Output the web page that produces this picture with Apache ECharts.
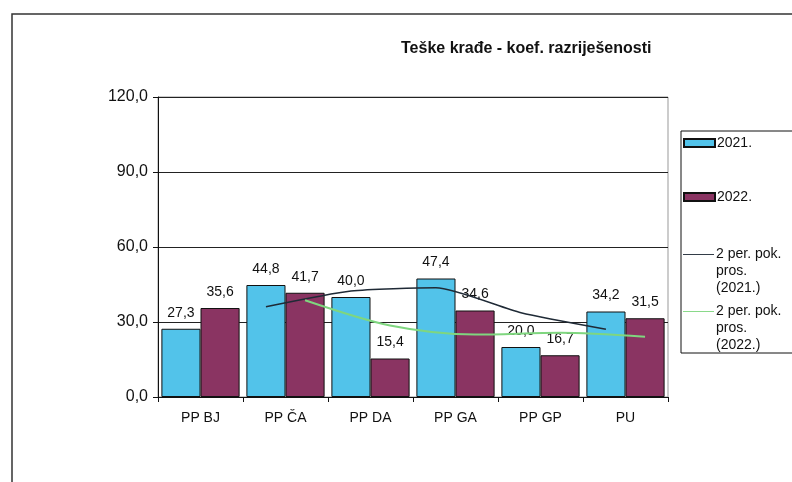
<!DOCTYPE html>
<html>
<head>
<meta charset="utf-8">
<script src="https://cdn.jsdelivr.net/npm/echarts@6/dist/echarts.min.js"></script>
<style>
  html, body { margin: 0; padding: 0; background: #fff; }
  #chart { width: 792px; height: 482px; }
</style>
</head>
<body>
<div id="chart"></div>
<script>
var categories = ['PP BJ', 'PP ČA', 'PP DA', 'PP GA', 'PP GP', 'PU'];
var values2021 = [27.3, 44.8, 40.0, 47.4, 20.0, 34.2];
var values2022 = [35.6, 41.7, 15.4, 34.6, 16.7, 31.5];
// 2-period moving average (first category has none)
var avg2021 = [null, 36.1, 42.4, 43.7, 33.7, 27.1];
var avg2022 = [null, 38.7, 28.6, 25.0, 25.7, 24.1];
var yTicks = [0, 30, 60, 90, 120];
var seriesNames = ['2021.', '2022.', '2 per. pok. pros. (2021.)', '2 per. pok. pros. (2022.)'];

var gapPct = 8;
var barShare = (1 - gapPct / 100) / 2;
var off2021 = gapPct / 200 + barShare / 2;
var off2022 = 1 - off2021;

function fmt(v) {
    return Number(v).toFixed(1).replace('.', ',');
}

function toPoints(arr, off) {
    var pts = [];
    arr.forEach(function (v, i) {
        if (v !== null) pts.push([i + off, v]);
    });
    return pts;
}

var dom = document.getElementById('chart');
var myChart = echarts.init(dom, null, { renderer: 'canvas' });

var font = 'Liberation Sans Narrow, Liberation Sans, Arial, sans-serif';
var lineIcon = 'path://M0,0 L34,0 L34,1 L0,1 Z';

// legend for a line series: first text line sits level with the icon
function lineLegend(name, top) {
    return {
        orient: 'vertical',
        left: 683,
        top: top,
        padding: 0,
        itemWidth: 31,
        itemHeight: 8,
        icon: lineIcon,
        data: [name],
        formatter: function (n) {
            var parts = n.replace('pok. pros. ', 'pok.|pros.|').split('|');
            return '{s| }\n{t|' + parts[0] + '}\n{t|' + parts[1] + '}\n{t|' + parts[2] + '}';
        },
        textStyle: {
            padding: [0, 0, 0, -3],
            rich: {
                s: { fontSize: 10, lineHeight: 34 },
                t: { fontFamily: font, fontSize: 14, color: '#111', lineHeight: 17 }
            }
        }
    };
}

var option = {
    animation: false,
    title: {
        text: 'Teške krađe - koef. razriješenosti',
        left: 396,
        top: 36,
        textStyle: { fontFamily: font, fontSize: 16, fontWeight: 'bold', color: '#111' }
    },
    graphic: [
        {
            type: 'polyline',
            shape: { points: [[12, 482], [12, 14], [792, 14]] },
            style: { stroke: '#333', lineWidth: 1.5, fill: null }
        },
        {
            type: 'rect',
            shape: { x: 681, y: 131, width: 140, height: 222 },
            style: { stroke: '#111', lineWidth: 1, fill: null }
        }
    ],
    legend: [
        {
            orient: 'vertical',
            left: 683,
            top: 135,
            padding: 0,
            itemWidth: 31,
            itemHeight: 8,
            itemGap: 38,
            icon: 'rect',
            data: [seriesNames[0], seriesNames[1]],
            textStyle: { fontFamily: font, fontSize: 14, color: '#111', lineHeight: 16, padding: [0, 0, 0, -3] }
        },
        lineLegend(seriesNames[2], 224),
        lineLegend(seriesNames[3], 281)
    ],
    grid: {
        left: 158,
        top: 97,
        width: 510,
        height: 300,
        show: true,
        borderColor: '#999',
        borderWidth: 1
    },
    xAxis: [
        {
            type: 'category',
            data: categories,
            axisLine: { lineStyle: { color: '#111' } },
            axisTick: { show: true, length: 5, lineStyle: { color: '#111' } },
            axisLabel: { fontFamily: font, fontSize: 14, color: '#111', margin: 14 }
        },
        {
            type: 'value',
            min: 0,
            max: categories.length,
            show: false
        }
    ],
    yAxis: {
        type: 'value',
        min: 0,
        max: 120,
        interval: 30,
        axisLine: { show: true, lineStyle: { color: '#111' } },
        axisTick: { show: true, length: 5, lineStyle: { color: '#111' } },
        axisLabel: {
            fontFamily: font, fontSize: 16, color: '#111', margin: 10,
            formatter: function (v) { return yTicks.indexOf(v) >= 0 ? fmt(v) : ''; }
        },
        splitLine: { lineStyle: { color: '#222', width: 1 } }
    },
    series: [
        {
            name: seriesNames[0],
            type: 'bar',
            data: values2021,
            barGap: '0%',
            barCategoryGap: gapPct + '%',
            itemStyle: { color: '#52c3ea', borderColor: '#111', borderWidth: 1 },
            label: {
                show: true, position: 'top', distance: 9,
                fontFamily: font, fontSize: 14, color: '#111',
                formatter: function (p) { return fmt(p.value); }
            }
        },
        {
            name: seriesNames[1],
            type: 'bar',
            data: values2022,
            itemStyle: { color: '#8a3462', borderColor: '#111', borderWidth: 1 },
            label: {
                show: true, position: 'top', distance: 9,
                fontFamily: font, fontSize: 14, color: '#111',
                formatter: function (p) { return fmt(p.value); }
            }
        },
        {
            name: seriesNames[2],
            type: 'line',
            xAxisIndex: 1,
            data: toPoints(avg2021, off2021),
            smooth: 0.2,
            symbol: 'none',
            lineStyle: { color: '#1f2a36', width: 1.5 },
            itemStyle: { color: '#1f2a36' },
            z: 5
        },
        {
            name: seriesNames[3],
            type: 'line',
            xAxisIndex: 1,
            data: toPoints(avg2022, off2022),
            smooth: 0.3,
            symbol: 'none',
            lineStyle: { color: '#7fd67f', width: 2 },
            itemStyle: { color: '#7fd67f' },
            z: 5
        }
    ]
};

myChart.setOption(option);
window.addEventListener('resize', myChart.resize);
</script>
</body>
</html>
